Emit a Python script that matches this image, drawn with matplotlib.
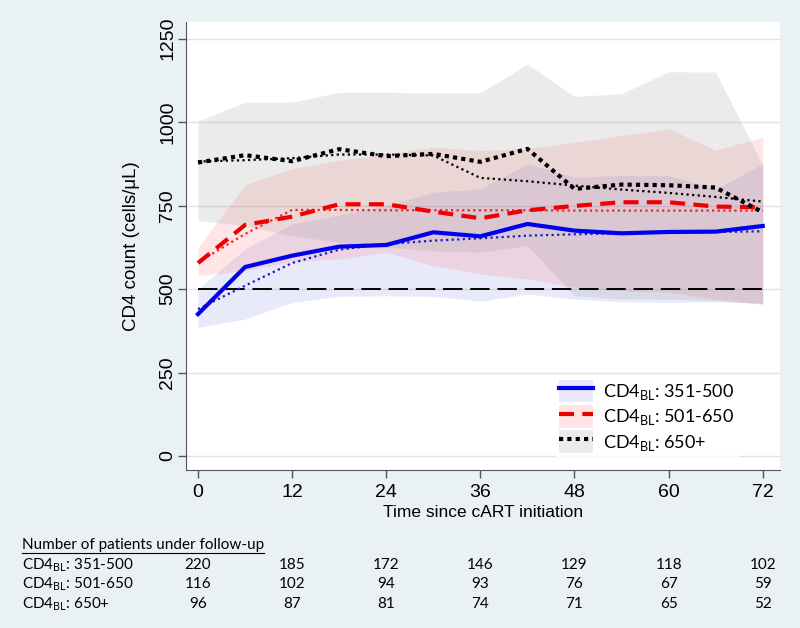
import matplotlib.pyplot as plt
import matplotlib.transforms as mtransforms
from matplotlib.lines import Line2D

plt.rcParams['font.family'] = ['Liberation Sans', 'DejaVu Sans']
plt.rcParams['mathtext.fontset'] = 'custom'
plt.rcParams['mathtext.rm'] = 'Lato'

# --- data ---
months = [0, 6, 12, 18, 24, 30, 36, 42, 48, 54, 60, 66, 72]

# CD4 baseline 351-500
low_mean = [425, 566, 600, 627, 632, 670, 658, 695, 675, 667, 671, 672, 689]
low_fit = [440, 510, 578, 618, 635, 645, 652, 660, 664, 667, 669, 671, 673]
low_lo = [385, 410, 460, 478, 480, 478, 464, 485, 470, 462, 460, 462, 458]
low_hi = [500, 620, 695, 722, 750, 790, 800, 875, 835, 840, 840, 800, 875]

# CD4 baseline 501-650
mid_mean = [578, 692, 717, 754, 754, 732, 712, 736, 749, 760, 760, 747, 745]
mid_fit = [580, 665, 737, 737, 736, 736, 736, 736, 735, 735, 735, 735, 735]
mid_lo = [540, 555, 582, 590, 610, 570, 545, 530, 505, 495, 490, 470, 455]
mid_hi = [625, 812, 861, 886, 905, 925, 915, 921, 940, 960, 980, 916, 955]

# CD4 baseline 650+
high_mean = [879, 901, 883, 919, 898, 905, 881, 920, 800, 813, 811, 804, 730]
high_fit = [882, 886, 892, 903, 903, 900, 833, 823, 810, 798, 788, 776, 762]
high_lo = [705, 690, 660, 640, 625, 615, 610, 630, 480, 470, 470, 465, 455]
high_hi = [1003, 1060, 1060, 1089, 1089, 1088, 1088, 1174, 1077, 1085, 1151, 1150, 870]

ref_level = 500

# number at risk table
tab_months = [0, 12, 24, 36, 48, 60, 72]
n_low = [220, 185, 172, 146, 129, 118, 102]
n_mid = [116, 102, 94, 93, 76, 67, 59]
n_high = [96, 87, 81, 74, 71, 65, 52]

sub = r'CD4$_{\mathregular{BL}}$'
group_labels = [sub + ': 351-500', sub + ': 501-650', sub + ': 650+']

bg = '#eaf1f4'
fig = plt.figure(figsize=(8, 6.28), dpi=100, facecolor=bg)
ax = fig.add_axes([0.2325, 0.2516, 0.7425, 0.7134])
ax.set_facecolor('white')

# bands
f1 = ax.fill_between(months, low_lo, low_hi, color='#4455dd', alpha=0.12, lw=0)
f2 = ax.fill_between(months, mid_lo, mid_hi, color='#ff5555', alpha=0.15, lw=0)
f3 = ax.fill_between(months, high_lo, high_hi, color='#8c8c8c', alpha=0.17, lw=0)

# reference line
ax.plot([months[0], months[-1]], [ref_level, ref_level], color='black', lw=1.4,
        dashes=(10, 4))

# fitted curves
ax.plot(months, low_fit, color='#1a1acc', lw=1.6, dashes=(1, 1.5))
ax.plot(months, mid_fit, color='#ee2222', lw=1.6, dashes=(1, 1.5))
ax.plot(months, high_fit, color='black', lw=1.6, dashes=(1, 1.5))

# observed means
l1, = ax.plot(months, low_mean, color='#0000ee', lw=3)
l2, = ax.plot(months, mid_mean, color='#ee0000', lw=3, dashes=(3.6, 2))
l3, = ax.plot(months, high_mean, color='black', lw=3, dashes=(1, 1))

ax.set_xlim(-1.53, 74.2)
ax.set_ylim(-42, 1300)
ax.set_xticks(range(0, 73, 12))
ax.set_yticks(range(0, 1251, 250))
ax.tick_params(axis='y', labelrotation=90, length=6, width=1, color='#555555', pad=1,
               labelsize=14)
ax.tick_params(axis='x', length=6, width=1, color='#555555', pad=4, labelsize=14)
for lab in ax.get_yticklabels():
    lab.set_va('center')
ax.grid(axis='y', color='#e3e3e3', lw=1)
ax.set_axisbelow(True)
for s in ['top', 'right']:
    ax.spines[s].set_visible(False)
for s in ['left', 'bottom']:
    ax.spines[s].set_color('#555555')

ax.set_ylabel('CD4 count (cells/μL)', fontsize=13.5, labelpad=14)
ax.set_xlabel('Time since cART initiation', fontsize=12.5, labelpad=3)

leg = ax.legend([(f1, l1), (f2, l2), (f3, l3)], group_labels,
                loc='lower right', bbox_to_anchor=(0.945, 0.01), frameon=True,
                prop={'family': 'Lato', 'size': 13}, handlelength=1.9,
                handleheight=1.55, labelspacing=0.15, handletextpad=0.55,
                borderpad=0.2, fancybox=False)
leg.get_frame().set_edgecolor('white')
leg.get_frame().set_facecolor('white')

# number at risk table below the chart
tfont = {'family': 'Lato', 'size': 11}
title = fig.text(0.027, 1 - 545 / 628, 'Number of patients under follow-up',
                 va='center', ha='left', **tfont)
trans = mtransforms.blended_transform_factory(ax.transData, fig.transFigure)
for row, (lab, counts) in enumerate(zip(group_labels, [n_low, n_mid, n_high])):
    yy = 1 - (565 + row * 19.5) / 628
    fig.text(0.027, yy, lab, va='center', ha='left', **tfont)
    for m, c in zip(tab_months, counts):
        ax.text(m, yy, str(c), transform=trans, ha='center', va='center',
                clip_on=False, **tfont)

fig.canvas.draw()
bb = title.get_window_extent().transformed(fig.transFigure.inverted())
fig.add_artist(Line2D([bb.x0, bb.x1], [bb.y0 - 0.002, bb.y0 - 0.002],
                      color='black', lw=0.8, transform=fig.transFigure))

fig.savefig('out.png', dpi=100, facecolor=bg)
